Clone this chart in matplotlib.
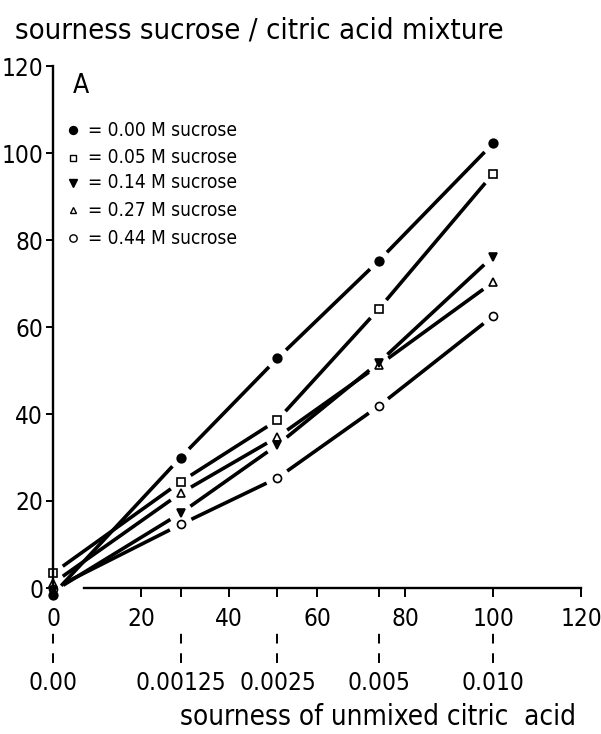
import numpy as np
from matplotlib import pyplot as plt

# data
x_sour = [0, 29, 51, 74, 100]
conc_labels = ["0.00", "0.00125", "0.0025", "0.005", "0.010"]

y_000 = [-1.5, 30.0, 52.8, 75.2, 102.2]   # 0.00 M sucrose
y_005 = [3.4, 24.4, 38.6, 64.1, 95.2]     # 0.05 M sucrose
y_014 = [-0.8, 17.2, 32.9, 51.8, 76.2]    # 0.14 M sucrose
y_027 = [1.1, 21.8, 34.7, 51.2, 70.3]     # 0.27 M sucrose
y_044 = [-0.2, 14.6, 25.3, 41.8, 62.5]    # 0.44 M sucrose

series = [
    (y_000, "o", "k", 6.2, "= 0.00 M sucrose"),
    (y_005, "s", "none", 5.4, "= 0.05 M sucrose"),
    (y_014, "v", "k", 6.0, "= 0.14 M sucrose"),
    (y_027, "^", "none", 5.4, "= 0.27 M sucrose"),
    (y_044, "o", "none", 5.8, "= 0.44 M sucrose"),
]

plt.rcParams["font.family"] = "DejaVu Sans"
plt.rcParams["font.stretch"] = "condensed"

fig = plt.figure(figsize=(6.01, 7.34), dpi=100)
ax = fig.add_axes([53/601, 146/734, 528/601, 522/734])
ax.set_xlim(0, 120)
ax.set_ylim(0, 120)

GAP = 12  # pixels left blank round each point


def gapped_line(xs, ys):
    # draw each segment shortened at both ends so it doesn't touch the points
    pts = ax.transData.transform(np.column_stack([xs, ys]))
    inv = ax.transData.inverted()
    for p0, p1 in zip(pts[:-1], pts[1:]):
        d = p1 - p0
        u = d / np.hypot(*d)
        seg = inv.transform(np.array([p0 + u * GAP, p1 - u * GAP]))
        ax.plot(seg[:, 0], seg[:, 1], "-", color="k", lw=2.6,
                solid_capstyle="butt", clip_on=False, zorder=2)


for ys, m, fc, ms, lab in series:
    gapped_line(x_sour, ys)
for ys, m, fc, ms, lab in series:
    ax.plot(x_sour, ys, m, ls="none", ms=ms, mfc=fc, mec="k", mew=1.2,
            clip_on=False, zorder=4)

ax.spines["top"].set_visible(False)
ax.spines["right"].set_visible(False)
ax.spines["left"].set_linewidth(1.7)
ax.spines["bottom"].set_linewidth(1.7)
ax.spines["bottom"].set_bounds(7, 120)

ax.set_xticks([0, 20, 40, 60, 80, 100, 120])
ax.set_xticks(x_sour[1:4], minor=True)
ax.set_yticks([0, 20, 40, 60, 80, 100, 120])
ax.tick_params(axis="x", which="both", direction="out", length=6.5, width=1.4, pad=7, labelsize=17.5)
ax.tick_params(axis="y", direction="out", length=5, width=1.4, pad=2, labelsize=17.5)

# second x scale: citric acid concentrations
ax.vlines(x_sour, -0.144, -0.080, transform=ax.get_xaxis_transform(), colors="k",
          lw=1.4, linestyles=(0, (5, 5)), clip_on=False)
for xv, lab in zip(x_sour, conc_labels):
    ax.text(xv, -0.182, lab, transform=ax.get_xaxis_transform(), ha="center",
            va="center", fontsize=17.5)

# legend drawn by hand
leg_y = [0.877, 0.824, 0.776, 0.724, 0.670]
for (ys, m, fc, ms, lab), ly in zip(series, leg_y):
    ax.plot([0.038], [ly], m, ms=ms - 0.5, mfc=fc, mec="k", mew=1.0,
            transform=ax.transAxes, clip_on=False)
    ax.text(0.066, ly, lab, transform=ax.transAxes, ha="left", va="center", fontsize=13.7)

ax.text(0.053, 0.962, "A", transform=ax.transAxes, ha="center", va="center", fontsize=19)

fig.text(0.025, 0.959, "sourness sucrose / citric acid mixture", ha="left", va="center", fontsize=21)
fig.text(378/601, 1 - 717/734, "sourness of unmixed citric  acid", ha="center", va="center", fontsize=20)

fig.savefig("out.png", dpi=100)
